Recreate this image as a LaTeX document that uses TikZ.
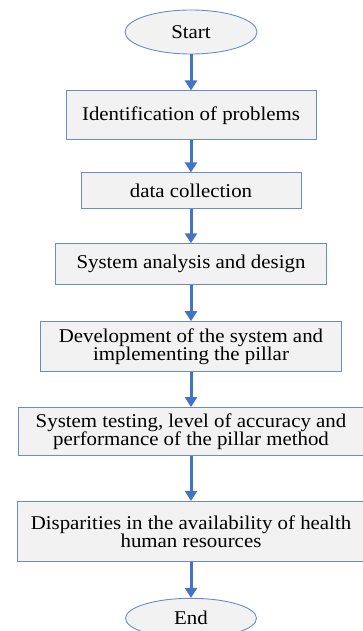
\documentclass[tikz,border=0pt]{standalone}
\usepackage{fontspec}
\setmainfont{Liberation Serif}[FakeStretch=1.07]
\usepackage{tikz}
\usetikzlibrary{shapes.geometric,arrows.meta}
\usetikzlibrary{positioning}
\definecolor{boxline}{HTML}{6A8CC7}
\definecolor{boxfill}{HTML}{F2F2F2}
\definecolor{flowblue}{HTML}{4472C4}
\tikzstyle{startstop} = [ellipse, minimum width=132pt, minimum height=44pt, inner sep=0pt, text centered, draw=boxline, fill=boxfill, line width=0.9pt]
\tikzstyle{process} = [rectangle, inner sep=0pt, align=center, draw=boxline, fill=boxfill, line width=0.9pt]
\tikzstyle{arrow} = [line width=3pt, draw=flowblue, -{Triangle[width=12pt,length=10pt]}]

\begin{document}
\begin{tikzpicture}[every node/.style={font=\fontsize{19.5}{18}\selectfont}]
    \useasboundingbox (0,0) rectangle (362pt,-631pt);
    \node (start) [startstop] at (191pt,-32pt) {Start};
    \node (problems) [process, minimum width=250pt, minimum height=49pt, below=36pt of start] {Identification of problems};
    \node (collect) [process, minimum width=220pt, minimum height=36pt, below=32pt of problems] {data collection};
    \node (analysis) [process, minimum width=271pt, minimum height=41pt, below=34pt of collect] {System analysis and design};
    \node (develop) [process, minimum width=301pt, minimum height=50pt, below=36pt of analysis] {Development of the system and\\implementing the pillar};
    \node (testing) [process, minimum width=346pt, minimum height=48pt, below=35pt of develop] {System testing, level of accuracy and\\performance of the pillar method};
    \node (dispar) [process, minimum width=348pt, minimum height=60pt, below=45pt of testing] {Disparities in the availability of health\\human resources};
    \node (end) [startstop, minimum width=131pt, minimum height=40pt, below=36pt of dispar] {End};

    \draw [arrow] (start)--(problems);
    \draw [arrow] (problems)--(collect);
    \draw [arrow] (collect)--(analysis);
    \draw [arrow] (analysis)--(develop);
    \draw [arrow] (develop)--(testing);
    \draw [arrow] (testing)--(dispar);
    \draw [arrow] (dispar)--(end);
\end{tikzpicture}
\end{document}
